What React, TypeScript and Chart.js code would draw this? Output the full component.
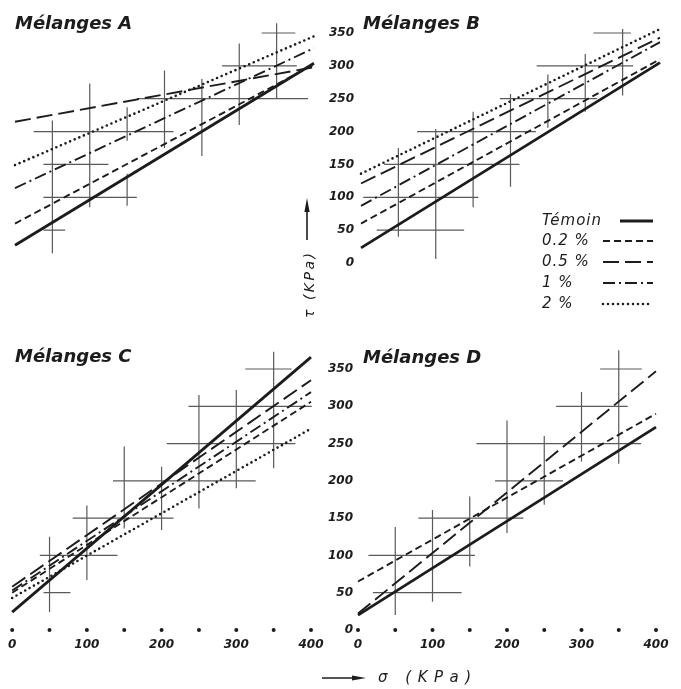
import { useEffect, useRef } from "react";
import { Chart, registerables } from "chart.js";

Chart.register(...registerables);

// ---------- shared values ----------
const seriesLabels = ["Témoin", "0.2 %", "0.5 %", "1 %", "2 %"];
const sigmaMin = 0;
const sigmaMax = 400;
const tauMin = 0;
const tauMax = 350;
const xTickStep = 100;
const yTickStep = 50;
const xDotValues = [0, 50, 100, 150, 200, 250, 300, 350, 400];
const crossLevels = [50, 100, 150, 200, 250, 300, 350];

// ---------- Mélanges A ----------
const aLineStart = [27, 60, 215, 114, 149];
const aLineEnd = [304, 302, 298, 327, 345];
const aVertSigma = [50, 100, 150, 150, 200, 250, 300, 350];
const aVertLow = [15, 85, 87, 186, 175, 163, 210, 249];
const aVertHigh = [217, 273, 136, 237, 293, 280, 334, 365];
const aHorLow = [38, 38, 38, 25, 163, 277, 330];
const aHorHigh = [67, 163, 125, 212, 392, 377, 375];

// ---------- Mélanges B ----------
const bLineStart = [23, 60, 121, 87, 136];
const bLineEnd = [305, 310, 343, 336, 356];
const bVertSigma = [50, 100, 150, 200, 250, 300, 350];
const bVertLow = [40, 6, 85, 116, 206, 230, 255];
const bVertHigh = [175, 204, 230, 257, 287, 318, 356];
const bHorLow = [21, 3, 31, 75, 186, 235, 311];
const bHorHigh = [138, 157, 212, 234, 316, 364, 361];

// ---------- Mélanges C ----------
const cLineStart = [24, 50, 58, 53, 43];
const cLineEnd = [366, 306, 335, 319, 270];
const cVertSigma = [50, 100, 150, 200, 250, 300, 350];
const cVertLow = [24, 67, 136, 134, 163, 190, 217];
const cVertHigh = [125, 167, 246, 219, 315, 322, 373];
const cHorLow = [42, 37, 81, 135, 207, 236, 312];
const cHorHigh = [78, 141, 216, 326, 379, 401, 374];

// ---------- Mélanges D ----------
const dLineStart = [20, 65, 22];
const dLineEnd = [272, 290, 347];
const dVertSigma = [50, 100, 150, 200, 250, 300, 350];
const dVertLow = [20, 38, 85, 130, 168, 226, 223];
const dVertHigh = [138, 161, 179, 281, 260, 319, 375];
const dHorLow = [20, 14, 81, 184, 159, 266, 325];
const dHorHigh = [139, 157, 222, 275, 380, 362, 381];

// ---------- styles ----------
const INK = "#1c1c1c";
const CROSS = "#5a5a5a";
const FAMILY = '"DejaVu Sans", "Liberation Sans", sans-serif';

const seriesStyles = [
  { width: 2.8, dash: [] as number[], cap: "butt" },
  { width: 1.9, dash: [7, 4], cap: "butt" },
  { width: 1.9, dash: [16, 6], cap: "butt" },
  { width: 1.9, dash: [12, 4, 2, 4], cap: "butt" },
  { width: 2.6, dash: [0, 5], cap: "round" },
];

function seriesDatasets(starts: number[], ends: number[]) {
  return starts.map((s, i) => ({
    label: seriesLabels[i],
    isSeries: true,
    data: [
      { x: sigmaMin, y: s },
      { x: sigmaMax, y: ends[i] },
    ],
    borderColor: INK,
    borderWidth: seriesStyles[i].width,
    borderDash: seriesStyles[i].dash,
    borderCapStyle: seriesStyles[i].cap,
    pointRadius: 0,
    fill: false,
    clip: false,
    order: 1,
  }));
}

function crossDataset(
  vSigma: number[],
  vLow: number[],
  vHigh: number[],
  hLow: number[],
  hHigh: number[]
) {
  const pts: { x: number; y: number | null }[] = [];
  vSigma.forEach((s, i) => {
    pts.push({ x: s, y: vLow[i] }, { x: s, y: vHigh[i] }, { x: s, y: null });
  });
  crossLevels.forEach((t, i) => {
    pts.push({ x: hLow[i], y: t }, { x: hHigh[i], y: t }, { x: hHigh[i], y: null });
  });
  return {
    label: "Mesures",
    data: pts,
    borderColor: CROSS,
    borderWidth: 1.2,
    pointRadius: 0,
    spanGaps: false,
    fill: false,
    clip: false,
    order: 2,
  };
}

function dotDataset() {
  return {
    label: "graduations",
    data: xDotValues.map((v) => ({ x: v, y: tauMin })),
    showLine: false,
    pointRadius: 2,
    pointBackgroundColor: INK,
    pointBorderWidth: 0,
    clip: false,
    order: 3,
  };
}

const decorPlugin = {
  id: "panelDecor",
  afterDatasetsDraw(chart: any, _args: any, opts: any) {
    const ctx = chart.ctx as CanvasRenderingContext2D;
    ctx.save();
    ctx.fillStyle = INK;
    ctx.strokeStyle = INK;
    if (opts.title) {
      ctx.font = `italic bold 18px ${FAMILY}`;
      ctx.textAlign = "left";
      ctx.textBaseline = "alphabetic";
      ctx.fillText(opts.title, opts.titleX, opts.titleY);
    }
    if (opts.legend) {
      const series = chart.data.datasets.filter((d: any) => d.isSeries);
      ctx.font = `italic 15px ${FAMILY}`;
      (ctx as any).letterSpacing = "1px";
      ctx.textAlign = "left";
      ctx.textBaseline = "middle";
      const rows = [221, 241, 262, 283, 304];
      series.forEach((d: any, i: number) => {
        const y = rows[i];
        ctx.fillText(d.label, opts.legendX, y);
        ctx.save();
        ctx.lineWidth = d.borderWidth;
        ctx.setLineDash(d.borderDash);
        ctx.lineCap = d.borderCapStyle;
        ctx.beginPath();
        ctx.moveTo(i === 0 ? opts.sampleX0 + 17 : opts.sampleX0, y);
        ctx.lineTo(opts.sampleX1, y);
        ctx.stroke();
        ctx.restore();
      });
      (ctx as any).letterSpacing = "0px";
    }
    if (opts.yTitle) {
      const ax = opts.yArrowX;
      ctx.lineWidth = 1.6;
      ctx.beginPath();
      ctx.moveTo(ax, 240);
      ctx.lineTo(ax, 208);
      ctx.stroke();
      ctx.beginPath();
      ctx.moveTo(ax, 198);
      ctx.lineTo(ax - 2.6, 212);
      ctx.lineTo(ax + 2.6, 212);
      ctx.closePath();
      ctx.fill();
      ctx.save();
      ctx.translate(opts.yTextX, 318);
      ctx.rotate(-Math.PI / 2);
      ctx.font = `italic 14px ${FAMILY}`;
      (ctx as any).letterSpacing = "2.5px";
      ctx.textAlign = "left";
      ctx.textBaseline = "middle";
      ctx.fillText("τ (KPa)", 0, 0);
      ctx.restore();
    }
    if (opts.xTitle) {
      const ay = opts.xArrowY;
      ctx.lineWidth = 1.6;
      ctx.beginPath();
      ctx.moveTo(22, ay);
      ctx.lineTo(56, ay);
      ctx.stroke();
      ctx.beginPath();
      ctx.moveTo(66, ay);
      ctx.lineTo(52, ay - 2.6);
      ctx.lineTo(52, ay + 2.6);
      ctx.closePath();
      ctx.fill();
      ctx.font = `italic 15px ${FAMILY}`;
      (ctx as any).letterSpacing = "6.5px";
      ctx.textAlign = "left";
      ctx.textBaseline = "middle";
      ctx.fillText("σ (KPa)", 78, ay);
    }
    ctx.restore();
  },
};

type Panel = {
  key: string;
  left: number;
  top: number;
  w: number;
  h: number;
  padding: { left: number; right: number; top: number; bottom: number };
  showX: boolean;
  showY: boolean;
  yWidth: number;
  yPad: number;
  datasets: any[];
  decor: any;
};

const tickFont = { family: FAMILY, size: 12, style: "italic" as const, weight: "bold" as const };

const panels: Panel[] = [
  {
    key: "A",
    left: 0,
    top: 0,
    w: 340,
    h: 320,
    padding: { left: 15, right: 26, top: 33, bottom: 27 },
    showX: false,
    showY: false,
    yWidth: 0,
    yPad: 0,
    datasets: [
      ...seriesDatasets(aLineStart, aLineEnd),
      crossDataset(aVertSigma, aVertLow, aVertHigh, aHorLow, aHorHigh),
    ],
    decor: { title: "Mélanges A", titleX: 15, titleY: 29 },
  },
  {
    key: "B",
    left: 300,
    top: 0,
    w: 381,
    h: 320,
    padding: { left: 0, right: 21, top: 33, bottom: 27 },
    showX: false,
    showY: true,
    yWidth: 61,
    yPad: 7,
    datasets: [
      ...seriesDatasets(bLineStart, bLineEnd),
      crossDataset(bVertSigma, bVertLow, bVertHigh, bHorLow, bHorHigh),
    ],
    decor: {
      title: "Mélanges B",
      titleX: 63,
      titleY: 29,
      legend: true,
      legendX: 242,
      sampleX0: 303,
      sampleX1: 353,
      yTitle: true,
      yArrowX: 7,
      yTextX: 10,
    },
  },
  {
    key: "C",
    left: 0,
    top: 320,
    w: 340,
    h: 369,
    padding: { left: 12, right: 29, top: 49, bottom: 29 },
    showX: true,
    showY: false,
    yWidth: 0,
    yPad: 0,
    datasets: [
      ...seriesDatasets(cLineStart, cLineEnd),
      crossDataset(cVertSigma, cVertLow, cVertHigh, cHorLow, cHorHigh),
      dotDataset(),
    ],
    decor: { title: "Mélanges C", titleX: 15, titleY: 42 },
  },
  {
    key: "D",
    left: 300,
    top: 320,
    w: 381,
    h: 369,
    padding: { left: 0, right: 25, top: 49, bottom: 29 },
    showX: true,
    showY: true,
    yWidth: 58,
    yPad: 5,
    datasets: [
      ...seriesDatasets(dLineStart, dLineEnd),
      crossDataset(dVertSigma, dVertLow, dVertHigh, dHorLow, dHorHigh),
      dotDataset(),
    ],
    decor: { title: "Mélanges D", titleX: 63, titleY: 43, xTitle: true, xArrowY: 358 },
  },
];

function buildConfig(p: Panel): any {
  return {
    type: "line",
    data: { datasets: p.datasets },
    plugins: [decorPlugin],
    options: {
      responsive: false,
      maintainAspectRatio: false,
      devicePixelRatio: 1,
      animation: false,
      events: [],
      layout: { padding: p.padding },
      plugins: {
        legend: { display: false },
        tooltip: { enabled: false },
        title: { display: false },
        panelDecor: p.decor,
      },
      scales: {
        x: {
          type: "linear",
          min: sigmaMin,
          max: sigmaMax,
          display: p.showX,
          position: "bottom",
          grid: { display: false, drawTicks: false },
          border: { display: false },
          ticks: {
            stepSize: xTickStep,
            autoSkip: false,
            maxRotation: 0,
            padding: 8,
            color: INK,
            font: tickFont,
          },
          afterFit: (s: any) => {
            s.height = 30;
          },
        },
        y: {
          type: "linear",
          min: tauMin,
          max: tauMax,
          display: p.showY,
          position: "left",
          grid: { display: false, drawTicks: false },
          border: { display: false },
          ticks: {
            stepSize: yTickStep,
            autoSkip: false,
            padding: p.yPad,
            color: INK,
            font: tickFont,
          },
          afterFit: (s: any) => {
            s.width = p.yWidth;
          },
        },
      },
    },
  };
}

function PanelChart({ panel }: { panel: Panel }) {
  const ref = useRef<HTMLCanvasElement>(null);
  useEffect(() => {
    const chart = new Chart(ref.current as HTMLCanvasElement, buildConfig(panel));
    return () => chart.destroy();
  }, [panel]);
  return (
    <canvas
      ref={ref}
      width={panel.w}
      height={panel.h}
      style={{
        position: "absolute",
        left: panel.left,
        top: panel.top,
        width: panel.w,
        height: panel.h,
      }}
    />
  );
}

export default function App() {
  return (
    <div
      style={{
        position: "absolute",
        left: 0,
        top: 0,
        width: 681,
        height: 689,
        background: "#ffffff",
        overflow: "hidden",
      }}
    >
      {panels.map((p) => (
        <PanelChart key={p.key} panel={p} />
      ))}
    </div>
  );
}
